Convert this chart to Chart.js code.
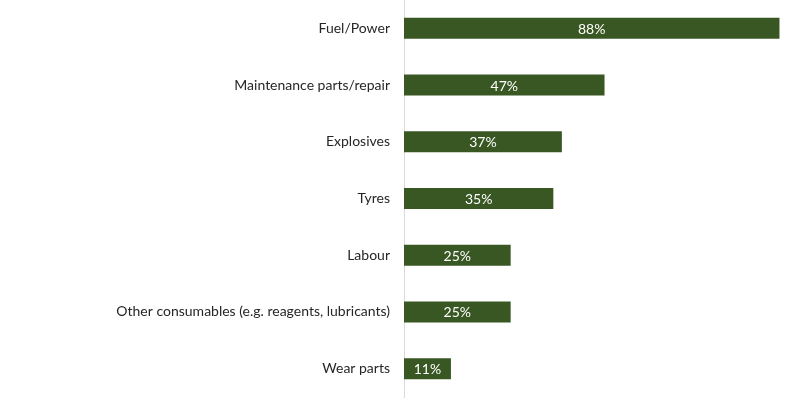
<!DOCTYPE html>
<html><head><meta charset="utf-8">
<script src="https://cdn.jsdelivr.net/npm/chart.js@4"></script>
<style>html,body{margin:0;padding:0;background:#fff;}#wrap{width:800px;height:418px;}</style>
</head><body><div id="wrap"><canvas id="c"></canvas></div>
<script>
const categories = ["Fuel/Power","Maintenance parts/repair","Explosives","Tyres","Labour","Other consumables (e.g. reagents, lubricants)","Wear parts"];
const values = [88,47,37,35,25,25,11];
const valueLabels = ["88%","47%","37%","35%","25%","25%","11%"];

const FONT = "Lato, 'Open Sans', sans-serif";
const labelPlugin = {
  id: 'barLabels',
  afterDatasetsDraw(chart) {
    const ctx = chart.ctx;
    const meta = chart.getDatasetMeta(0);
    ctx.save();
    ctx.fillStyle = '#ffffff';
    ctx.font = '14px ' + FONT;
    ctx.textAlign = 'center';
    ctx.textBaseline = 'middle';
    meta.data.forEach((bar, i) => {
      const cx = (bar.x + bar.base) / 2;
      ctx.fillText(valueLabels[i], cx, bar.y + 1);
    });
    ctx.restore();
  }
};

new Chart(document.getElementById('c'), {
  type: 'bar',
  data: { labels: categories, datasets: [{ data: values, backgroundColor: '#385723', borderWidth: 0, barPercentage: 0.37, categoryPercentage: 1.0 }] },
  options: {
    indexAxis: 'y',
    responsive: true,
    maintainAspectRatio: false,
    animation: false,
    layout: { padding: { left: 0, right: 12, top: 0, bottom: 21 } },
    plugins: { legend: { display: false }, tooltip: { enabled: false } },
    scales: {
      x: { display: false, min: 0, max: 90 },
      y: {
        grid: { display: false, drawTicks: false },
        border: { display: true, color: '#d9d9d9', width: 1 },
        ticks: { color: '#262626', font: { family: FONT, size: 14 }, padding: 14 },
        afterFit(scale) { scale.width = 404; scale.paddingTop = 0; scale.paddingBottom = 0; }
      }
    }
  },
  plugins: [labelPlugin]
});
</script>
</body></html>
